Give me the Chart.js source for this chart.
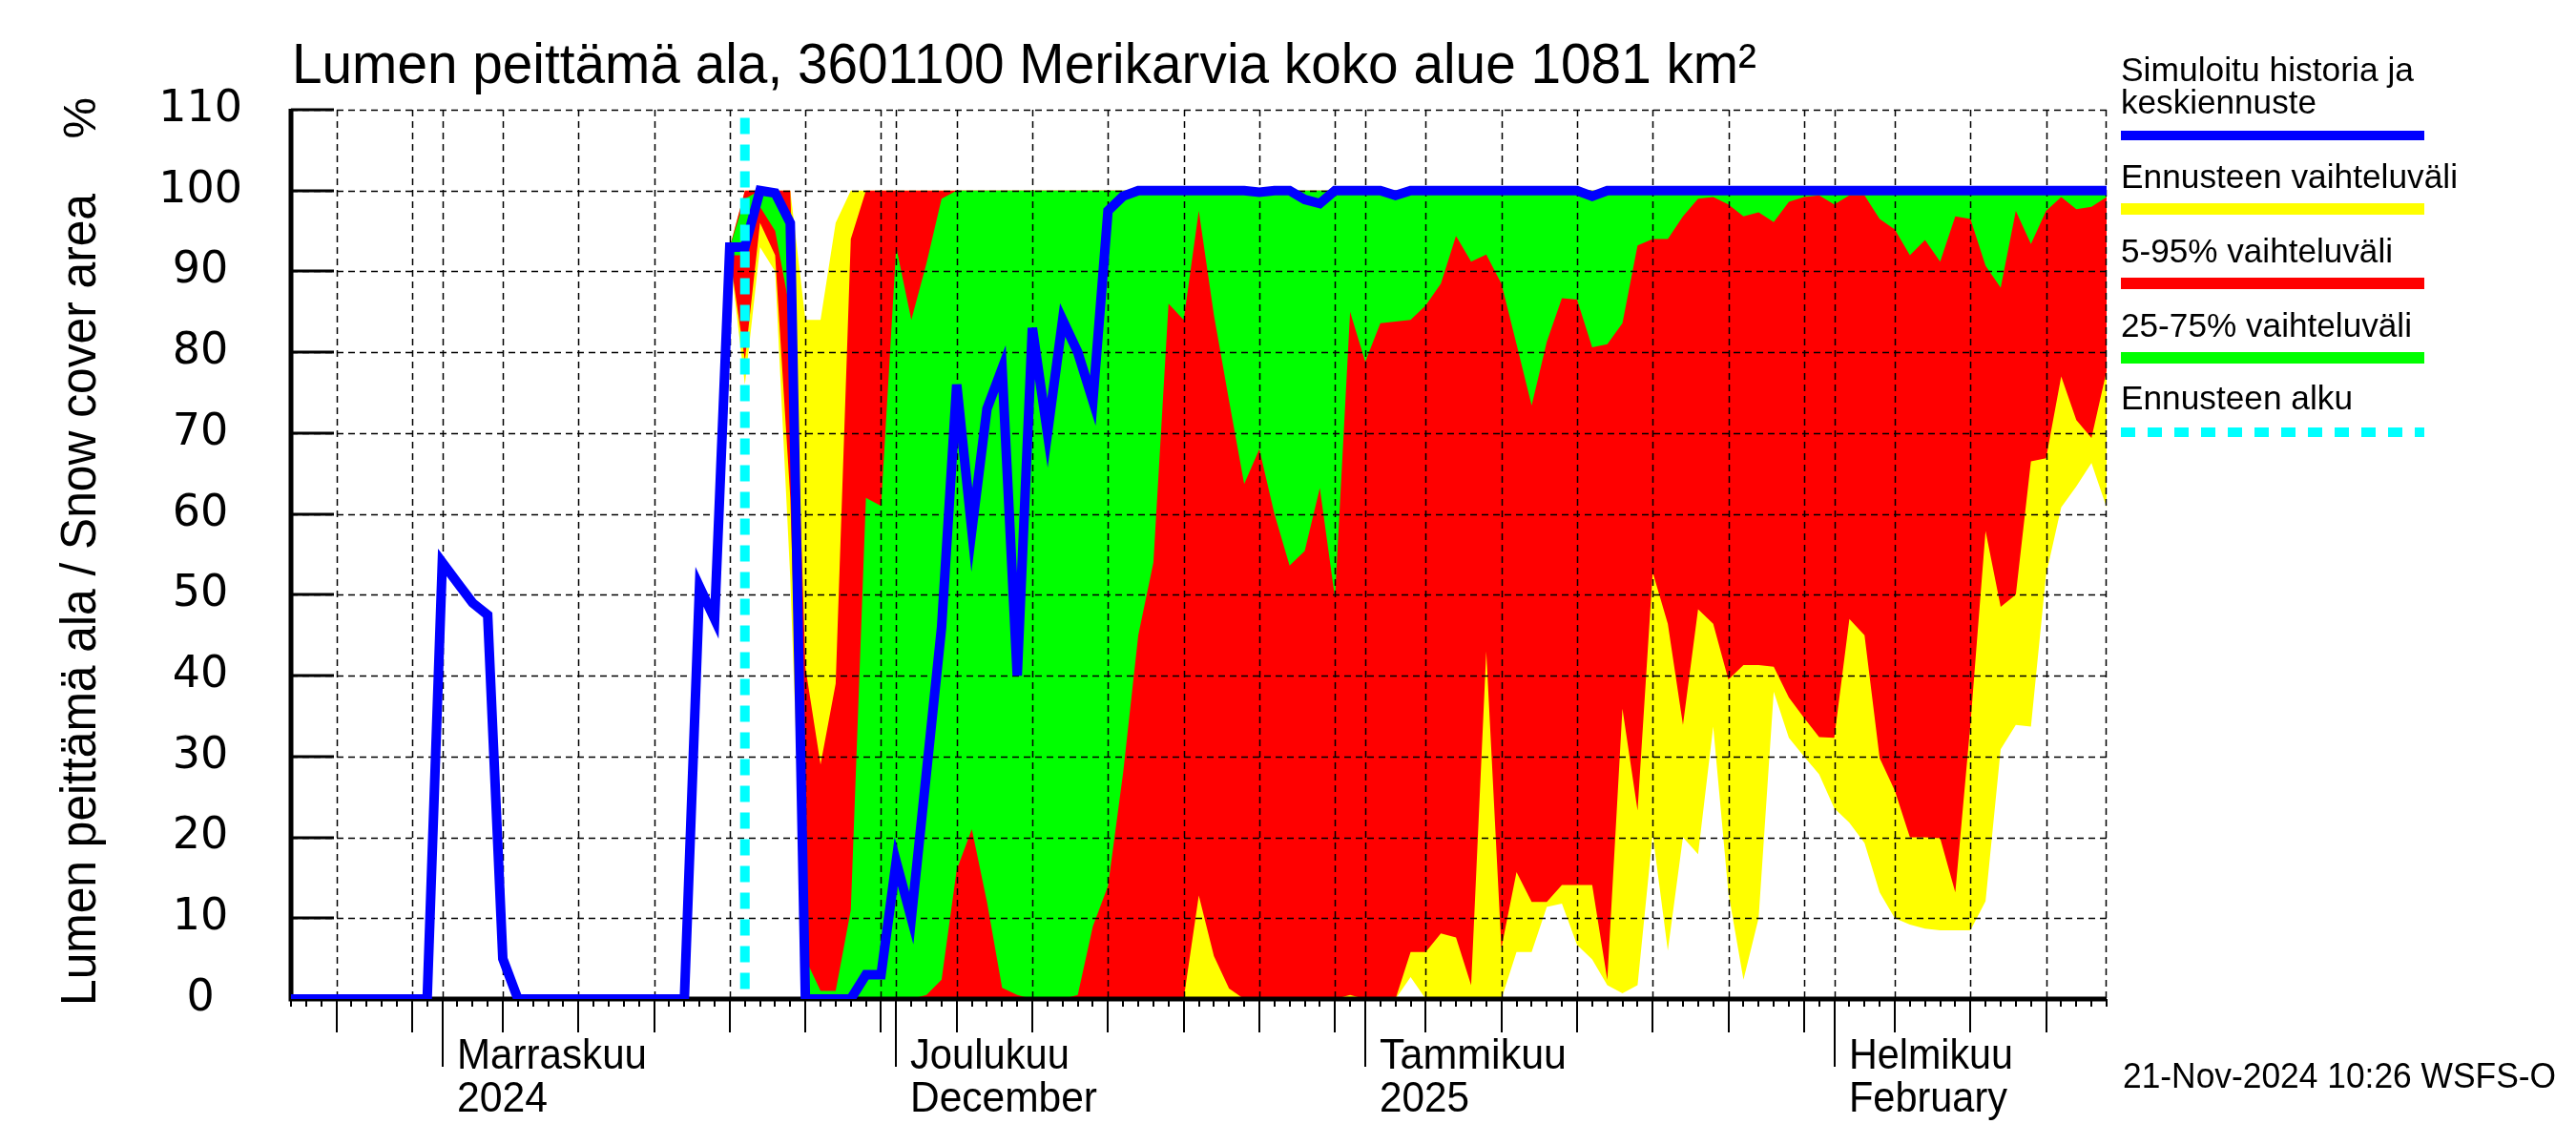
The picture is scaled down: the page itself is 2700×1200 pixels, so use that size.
<!DOCTYPE html>
<html><head><meta charset="utf-8">
<script src="https://cdn.jsdelivr.net/npm/chart.js@4.4.1/dist/chart.umd.min.js"></script>
<style>
html,body{margin:0;padding:0;background:#fff;}
#wrap{position:relative;width:2700px;height:1200px;overflow:hidden;background:#fff;}
#c{position:absolute;left:0;top:0;}
.t{position:absolute;white-space:nowrap;color:#000;margin:0;padding:0;}
</style></head><body>
<div id="wrap"><canvas id="c" width="2700" height="1200"></canvas></div>
<script>
// Day index 0 = 22 Oct 2024, day 120 = 19 Feb 2025
const firstDate = [2024, 9, 22];
const forecastStartDay = 30; // 21 Nov 2024
const bandStartDay = 29;

// Simulated history and mean forecast (%), one value per day from day 0
const historyAndMean = [
  0,0,0,0,0,0,0,0,0,0,
  54,51.5,49,47.5,5,0,
  0,0,0,0,0,0,0,0,0,0,0,
  51,47,93,93,100,99.7,96,
  0,0,0,0,3,3,
  17,10,28,46,76,58,73,78,40,83,
  70,84,80,74,97.5,99.3,
  100,100,100,100,100,100,100,100,
  99.8,100,100,98.9,98.4,
  100,100,100,100,
  99.4,
  100,100,100,100,100,100,100,100,100,100,100,100,
  99.3,
  100,100,100,100,100,100,100,100,100,100,100,100,100,100,100,100,100,
  100,100,100,100,100,100,100,100,100,100,100,100,100,100,100,100,100
];

// Forecast ranges, one value per day from bandStartDay
const rangeMax = [
  93,100,100,100,100,84,84,96,
  100,100,100,100,100,100,100,100,100,100,100,100,100,100,100,100,100,100,100,100,100,
  100,100,100,100,100,100,100,100,100,100,100,100,100,100,100,100,100,100,100,100,100,
  100,100,100,100,100,100,100,100,100,100,100,100,100,100,100,100,100,100,100,100,100,
  100,100,100,100,100,100,100,100,100,100,100,100,100,100,100,100,100,100,100,100,100
];
const rangeMin = [
  92,76,93,90,52,
  0,0,0,0,0,0,0,0,0,0,0,0,0,0,0,0,0,0,0,0,
  0,0,0,0,0,0,0,0,0,0,0,0,0,0,0,0,0,0,0,0,
  2.7,
  0,0,0,0,0,0,
  5.8,5.8,11.4,11.8,6.7,4.9,1.7,0.7,1.7,20.4,
  6,20,17.9,33.7,13.2,2.4,10,38,32.3,30,
  27.8,23.6,21.8,19.3,13.2,10,9.2,8.7,8.5,8.5,
  8.5,12.1,30.9,33.9,33.7,52.5,60.8,63.4,66.3,60.8
];
const p5 = [
  92,79,96,92,62,
  0,0,0,0,0,0,0,0,0,0,0,0,0,0,0,0,0,0,0,0,0,0,0,0,0,0,
  12.8,5.3,1.3,
  0,0,0,0,0,0,0,
  0.5,
  0,0,0,
  5.8,5.8,8.1,7.6,1.7,43,6.3,15.7,12,12,
  14.1,14.1,14.1,2.4,35.9,23.3,52.8,46.4,33.9,48.2,
  46.4,39.5,41.3,41.3,41.1,37.3,34.8,32.4,32.3,47,
  45,29.8,25.8,20,20,19.9,13.2,34,57.9,48.5,
  50,66.5,66.9,77,71.6,69.4,77.7
];
const p25 = [
  92,92,98,95,85,
  0,0,0,0,0,0,0,0,
  0.5,2.4,16,21,12,1.4,0.5,0,0,0,
  0.5,9,14,28,45,54,86,84,97.5,84.6,
  74,63.7,68,60,53.6,55.4,63.2,49.6,85,78.8,
  83.6,83.8,84,85.8,88.5,94.4,91.2,92.1,88.5,81,
  73.4,81.3,86.7,86.5,80.6,81,83.6,93.2,94,94,
  96.8,99,99.2,98.3,96.8,97.3,96.1,98.6,99.2,99.4,
  98.3,99.4,99.4,96.5,95.2,92,93.9,91.2,96.8,96.5,
  90.7,88,97.5,93.4,97.5,99.2,97.7,98,99.2
];
const p75 = [
  93,99,100,99,95,5,1,1,11,62,61,93,84,91,99,
  100,100,100,100,100,100,100,100,100,100,100,100,100,100,100,100,100,100,100,100,
  100,100,100,100,100,100,100,100,100,100,100,100,100,100,100,100,100,100,100,100,
  100,100,100,100,100,100,100,100,100,100,100,100,100,100,100,100,100,100,100,100,
  100,100,100,100,100,100,100,100,100,100,100,100,100,100,100,100,100
];
const p95 = [
  93,100,100,100,100,41,29,39,94,
  100,100,100,100,100,100,100,100,100,100,100,100,100,100,100,100,100,100,100,100,
  100,100,100,100,100,100,100,100,100,100,100,100,100,100,100,100,100,100,100,100,
  100,100,100,100,100,100,100,100,100,100,100,100,100,100,100,100,100,100,100,100,
  100,100,100,100,100,100,100,100,100,100,100,100,100,100,100,100,100,100,100,100,
  100,100,100
];

const yTicks = [0,10,20,30,40,50,60,70,80,90,100,110];
const monthStarts = [10, 40, 71, 102];
const monthNames = ['Marraskuu', 'Joulukuu', 'Tammikuu', 'Helmikuu'];
const monthNames2 = ['2024', 'December', '2025', 'February'];
const monthWidths = [199, 167, 196, 172];
const monthWidths2 = [95, 196, 94, 166];
const legendLabels = ['Simuloitu historia ja\nkeskiennuste', 'Ennusteen vaihteluväli', '5-95% vaihteluväli', '25-75% vaihteluväli', 'Ennusteen alku'];
const titleText = 'Lumen peittämä ala, 3601100 Merikarvia koko alue 1081 km²';
const yTitleText = 'Lumen peittämä ala / Snow cover area';
const stampText = '21-Nov-2024 10:26 WSFS-O';

const C_BLUE = '#0000ff', C_YEL = '#ffff00', C_RED = '#ff0000', C_GRN = '#00ff00', C_CYAN = '#00ffff';

function dayDate(d) { return new Date(firstDate[0], firstDate[1], firstDate[2] + d); }
const toXY = (arr, start) => arr.map((v, i) => ({x: start + i, y: v}));
const band = (arr, color, fill) => ({data: toXY(arr, bandStartDay), borderWidth: 0, pointRadius: 0,
  backgroundColor: color, borderColor: color, fill: fill});

function drawFrame(chart) {
  const {ctx, chartArea: a, scales: {x, y}} = chart;
  ctx.save();
  ctx.strokeStyle = '#000';
  ctx.lineWidth = 1.5;
  ctx.setLineDash([7, 5]);
  ctx.beginPath();
  for (const v of yTicks) {
    if (v === 0) continue;
    const py = Math.round(y.getPixelForValue(v)) + 0.5;
    ctx.moveTo(a.left, py); ctx.lineTo(a.right, py);
  }
  for (let d = 0; d <= 120; d++) {
    const dom = dayDate(d).getDate();
    if (dom === 1 || dom % 5 === 0) {
      const px = Math.round(x.getPixelForValue(d)) + 0.5;
      ctx.moveTo(px, a.top); ctx.lineTo(px, a.bottom);
    }
  }
  ctx.moveTo(a.right - 0.5, a.top); ctx.lineTo(a.right - 0.5, a.bottom);
  ctx.stroke();
  ctx.setLineDash([]);
  // y ticks inward
  ctx.lineWidth = 3;
  ctx.beginPath();
  for (const v of yTicks) {
    const py = Math.round(y.getPixelForValue(v));
    ctx.moveTo(a.left, py); ctx.lineTo(a.left + 45, py);
  }
  ctx.stroke();
  // x ticks below axis
  ctx.lineWidth = 2;
  ctx.beginPath();
  for (let d = 0; d <= 120; d++) {
    const dom = dayDate(d).getDate();
    const len = dom === 1 ? 71 : (dom % 5 === 0 ? 35 : 8);
    const px = Math.round(x.getPixelForValue(d));
    ctx.moveTo(px, a.bottom); ctx.lineTo(px, a.bottom + len);
  }
  ctx.stroke();
  // axes
  ctx.lineWidth = 5;
  ctx.beginPath();
  ctx.moveTo(a.left, a.top - 1); ctx.lineTo(a.left, a.bottom + 2.5);
  ctx.moveTo(a.left - 2.5, a.bottom); ctx.lineTo(a.right, a.bottom);
  ctx.stroke();
  ctx.restore();
}

const framePlugin = {
  id: 'frame',
  afterDatasetDraw(chart, args) { if (args.index === 2) drawFrame(chart); },
  afterDraw(chart) {
    const ctx = chart.ctx;
    const items = [
      {y: 142, c: C_BLUE, w: 10},
      {y: 219, c: C_YEL, w: 12},
      {y: 297, c: C_RED, w: 12},
      {y: 375, c: C_GRN, w: 12},
      {y: 453, c: C_CYAN, w: 10, dash: [15, 13]}
    ];
    ctx.save();
    for (const it of items) {
      ctx.strokeStyle = it.c; ctx.lineWidth = it.w; ctx.lineCap = 'butt';
      ctx.setLineDash(it.dash || []);
      ctx.beginPath(); ctx.moveTo(2223, it.y); ctx.lineTo(2541, it.y); ctx.stroke();
    }
    ctx.restore();
  }
};

const chart = new Chart(document.getElementById('c'), {
  type: 'line',
  data: {
    datasets: [
      {data: [{x: forecastStartDay, y: 109}, {x: forecastStartDay, y: 0}], borderColor: C_CYAN, borderWidth: 10,
        borderDash: [17, 11], pointRadius: 0, fill: false},
      {data: toXY(historyAndMean, 0), borderColor: C_BLUE, borderWidth: 10, pointRadius: 0, fill: false},
      band(p75, C_GRN, '+1'),
      band(p25, C_GRN, false),
      band(p95, C_RED, '+1'),
      band(p5, C_RED, false),
      band(rangeMax, C_YEL, '+1'),
      band(rangeMin, C_YEL, false)
    ]
  },
  options: {
    responsive: false, animation: false, devicePixelRatio: 1,
    layout: {padding: {left: 0, top: 115, right: 492, bottom: 0}},
    plugins: {legend: {display: false}, tooltip: {enabled: false}, filler: {propagate: false}},
    elements: {point: {radius: 0}, line: {tension: 0}},
    scales: {
      x: {type: 'linear', min: 0, max: 120, grid: {display: false, drawTicks: false}, border: {display: false},
        ticks: {display: false}, afterFit: (s) => { s.height = 153; }},
      y: {type: 'linear', min: 0, max: 110, grid: {display: false, drawTicks: false}, border: {display: false},
        afterBuildTicks: (s) => { s.ticks = yTicks.map(v => ({value: v})); },
        ticks: {stepSize: 10, color: '#000', font: {family: "'DejaVu Sans', sans-serif", size: 46},
          padding: 51, crossAlign: 'center'},
        afterFit: (s) => { s.width = 305; }}
    }
  },
  plugins: [framePlugin]
});

// ---- HTML text ----
const wrap = document.getElementById('wrap');
const mctx = document.createElement('canvas').getContext('2d');
const FAM = "'Liberation Sans', Arial, Helvetica, sans-serif";
function addText(str, o) {
  const font = `${o.size}px ${FAM}`;
  mctx.font = font;
  const m = mctx.measureText(str);
  const a = m.fontBoundingBoxAscent || o.size * 0.905;
  const d = m.fontBoundingBoxDescent || o.size * 0.212;
  const off = (o.size - a - d) / 2 + a;
  const k = o.width ? o.width / m.width : 1;
  const el = document.createElement('div');
  el.className = 't';
  el.textContent = str;
  el.style.fontFamily = FAM;
  el.style.fontSize = o.size + 'px';
  el.style.lineHeight = o.size + 'px';
  el.style.left = o.x + 'px';
  el.style.top = (o.baseline - off) + 'px';
  el.style.transformOrigin = `0px ${off}px`;
  el.style.transform = (o.rotate ? 'rotate(-90deg) ' : '') + `scaleX(${k})`;
  wrap.appendChild(el);
}

addText(titleText, {x: 306, baseline: 87, size: 59, width: 1535});
addText(yTitleText, {x: 100, baseline: 1054, size: 51, width: 851, rotate: true});
addText('%', {x: 100, baseline: 145, size: 49, rotate: true});

const xs = chart.scales.x;
monthStarts.forEach((d, i) => {
  const px = xs.getPixelForValue(d) + 15;
  addText(monthNames[i], {x: px, baseline: 1120, size: 45, width: monthWidths[i]});
  addText(monthNames2[i], {x: px, baseline: 1165, size: 45, width: monthWidths2[i]});
});

const legParts = legendLabels[0].split('\n');
addText(legParts[0], {x: 2223, baseline: 85, size: 35, width: 307});
addText(legParts[1], {x: 2223, baseline: 119, size: 35, width: 205});
addText(legendLabels[1], {x: 2223, baseline: 197, size: 35, width: 353});
addText(legendLabels[2], {x: 2223, baseline: 275, size: 35, width: 285});
addText(legendLabels[3], {x: 2223, baseline: 353, size: 35, width: 305});
addText(legendLabels[4], {x: 2223, baseline: 429, size: 35, width: 243});

addText(stampText, {x: 2225, baseline: 1140, size: 37, width: 454});
</script>
</body></html>
